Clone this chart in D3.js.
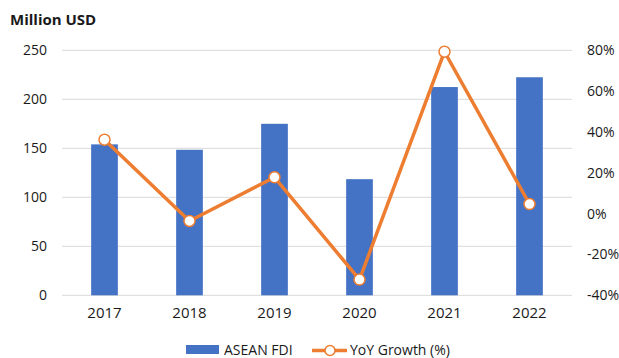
<!DOCTYPE html>
<html>
<head>
<meta charset="utf-8">
<script src="https://cdn.jsdelivr.net/npm/d3@7"></script>
<style>
  html, body { margin: 0; padding: 0; background: #fff; }
  svg { display: block; font-family: "Open Sans", "Noto Sans", sans-serif; }
</style>
</head>
<body>
<svg id="chart" width="619" height="358"></svg>
<script>
// ASEAN FDI (million USD) with year-over-year growth
const years = ["2017", "2018", "2019", "2020", "2021", "2022"];
const fdiValues = [154, 148.5, 175, 118.5, 212.5, 222.5];
const yoyGrowth = [36.2, -3.6, 17.8, -32.3, 79.3, 4.7];
const leftTicks = [0, 50, 100, 150, 200, 250];
const rightTicks = [-40, -20, 0, 20, 40, 60, 80];
const seriesNames = ["ASEAN FDI", "YoY Growth (%)"];

const blue = "#4472C4", orange = "#ED7D31", grid = "#D9D9D9", textColor = "#1a1a1a";
const svg = d3.select("#chart");
const plot = { left: 62, right: 572, top: 50.3, bottom: 295.3 };

const x = d3.scaleBand().domain(years).range([plot.left, plot.right]).paddingInner(0.686).paddingOuter(0.343);
const xc = d => x(d) + x.bandwidth() / 2;
const yL = d3.scaleLinear().domain([0, 250]).range([plot.bottom, plot.top]);
const yR = d3.scaleLinear().domain([-40, 80]).range([plot.bottom, plot.top]);

// gridlines
svg.append("g").selectAll("line").data(leftTicks).join("line")
  .attr("x1", plot.left).attr("x2", plot.right)
  .attr("y1", d => yL(d)).attr("y2", d => yL(d))
  .attr("stroke", grid).attr("stroke-width", 1);

// left axis
const leftAxis = svg.append("g").attr("transform", `translate(${plot.left},0)`)
  .call(d3.axisLeft(yL).tickValues(leftTicks).tickSize(0).tickPadding(15));
leftAxis.select(".domain").remove();
leftAxis.selectAll("text").attr("font-size", 14).attr("fill", textColor)
  .attr("font-family", "'Open Sans', sans-serif");

// right axis
const rightAxis = svg.append("g").attr("transform", `translate(${plot.right},0)`)
  .call(d3.axisRight(yR).tickValues(rightTicks).tickSize(0).tickPadding(15).tickFormat(d => d + "%"));
rightAxis.select(".domain").remove();
rightAxis.selectAll("text").attr("font-size", 14).attr("fill", textColor)
  .attr("font-family", "'Open Sans', sans-serif");

// bottom axis
const bottomAxis = svg.append("g").attr("transform", `translate(0,${plot.bottom})`)
  .call(d3.axisBottom(x).tickSize(0).tickPadding(12));
bottomAxis.select(".domain").remove();
bottomAxis.selectAll("text").attr("font-size", 15).attr("fill", textColor)
  .attr("font-family", "'Open Sans', sans-serif");

// bars
svg.append("g").selectAll("rect").data(years).join("rect")
  .attr("x", d => x(d)).attr("width", x.bandwidth())
  .attr("y", (d, i) => yL(fdiValues[i]))
  .attr("height", (d, i) => yL(0) - yL(fdiValues[i]))
  .attr("fill", blue);

// growth line
const line = d3.line().x((d, i) => xc(years[i])).y(d => yR(d));
svg.append("path").datum(yoyGrowth).attr("d", line)
  .attr("fill", "none").attr("stroke", orange).attr("stroke-width", 3.5)
  .attr("stroke-linejoin", "round");
svg.append("g").selectAll("circle").data(yoyGrowth).join("circle")
  .attr("cx", (d, i) => xc(years[i])).attr("cy", d => yR(d)).attr("r", 5.5)
  .attr("fill", "#fff").attr("stroke", orange).attr("stroke-width", 1.5);

// axis title
svg.append("text").attr("x", 10).attr("y", 25).text("Million USD")
  .attr("font-size", 15).attr("font-weight", "bold").attr("fill", textColor);

// legend
const lg = svg.append("g");
lg.append("rect").attr("x", 186).attr("y", 345).attr("width", 33).attr("height", 9).attr("fill", blue);
lg.append("text").attr("x", 224).attr("y", 355).text(seriesNames[0])
  .attr("font-size", 14).attr("fill", textColor);
lg.append("line").attr("x1", 312).attr("x2", 347).attr("y1", 350.5).attr("y2", 350.5)
  .attr("stroke", orange).attr("stroke-width", 3.5);
lg.append("circle").attr("cx", 330).attr("cy", 350.5).attr("r", 5)
  .attr("fill", "#fff").attr("stroke", orange).attr("stroke-width", 1.5);
lg.append("text").attr("x", 350).attr("y", 355).text(seriesNames[1])
  .attr("font-size", 14).attr("fill", textColor);
</script>
</body>
</html>
